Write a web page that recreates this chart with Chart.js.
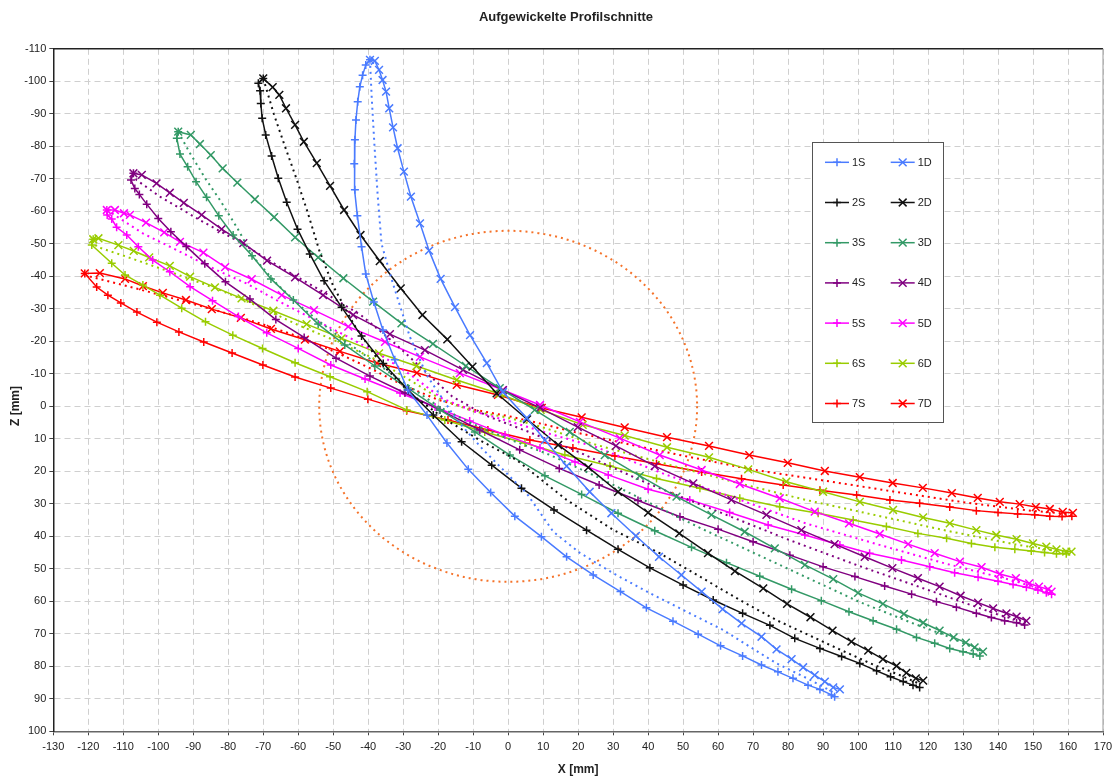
<!DOCTYPE html>
<html lang="de">
<head>
<meta charset="UTF-8">
<title>Aufgewickelte Profilschnitte</title>
<script src="https://cdn.jsdelivr.net/npm/chart.js"></script>
<style>
    html, body { margin: 0; padding: 0; background: #fff; }
    .box { position: relative; width: 1112px; height: 780px; }
</style>
</head>
<body>
<div class="box"><canvas id="grafico"></canvas></div>
<script>
// Profilschnitte 1..7 : S = Saugseite (+), D = Druckseite (x), M = gepunktete Linie
// Werte als [X, Z] in mm
const p1S = [[-39.5,-106.6],[-40.7,-105.0],[-41.6,-101.9],[-42.4,-98.3],[-43.0,-93.7],[-43.5,-88.1],[-43.8,-82.0],[-44.0,-74.6],[-43.8,-66.6],[-43.1,-58.6],[-41.9,-49.1],[-40.7,-40.7],[-38.4,-32.1],[-35.8,-23.5],[-32.4,-14.3],[-28.7,-5.0],[-23.2,2.7],[-17.5,11.3],[-11.4,19.4],[-5.0,26.5],[1.9,33.8],[9.5,40.1],[16.7,46.3],[24.3,51.9],[32.1,57.0],[39.5,62.0],[47.1,66.1],[54.3,70.1],[60.7,73.7],[67.0,76.8],[72.4,79.6],[77.1,81.7],[81.4,83.7],[85.7,85.8],[89.1,87.1],[92.4,88.8],[93.3,89.4]];
const p1D = [[-39.5,-106.6],[-38.1,-106.3],[-36.9,-103.5],[-35.9,-100.4],[-34.9,-96.8],[-34.0,-91.7],[-32.9,-85.8],[-31.6,-79.4],[-29.8,-72.2],[-27.8,-64.5],[-25.2,-56.3],[-22.6,-47.9],[-19.3,-39.2],[-15.2,-30.5],[-10.9,-21.9],[-6.1,-13.3],[-1.5,-4.4],[5.3,3.6],[10.5,10.4],[16.7,18.4],[23.3,26.3],[29.5,32.9],[36.5,39.9],[43.1,46.3],[49.5,51.9],[55.3,57.0],[61.3,62.4],[66.7,66.8],[72.4,70.9],[76.7,74.8],[81.0,77.8],[84.3,80.3],[87.6,82.7],[90.5,84.7],[92.9,86.5],[94.8,87.1]];
const p1M = [[-39.5,-106.6],[-39.0,-95],[-38.2,-80],[-37.3,-65],[-36.2,-50],[-33,-38],[-28.1,-21.4],[-23.3,-9.6],[-14.7,4.2],[-7.1,13.4],[5.3,26.8],[12.9,38.6],[20.5,45.1],[29.9,51.3],[40.5,57.5],[51,63.2],[61.4,68.8],[69.1,74],[76.7,79.1],[86,84],[93.3,88.2]];

const p2S = [[-70.0,-100.9],[-71.4,-99.4],[-70.9,-97.1],[-70.7,-93.2],[-70.3,-88.6],[-69.3,-83.5],[-67.6,-77.0],[-65.7,-70.2],[-63.3,-62.8],[-60.2,-54.5],[-56.7,-46.9],[-52.6,-38.6],[-47.6,-30.5],[-41.9,-21.6],[-35.7,-13.2],[-28.6,-5.0],[-21.4,2.7],[-13.3,10.9],[-4.7,18.1],[3.8,25.2],[13.1,31.9],[22.4,38.1],[31.4,44.0],[40.5,49.7],[50.0,55.0],[58.6,59.6],[67.0,63.7],[74.8,67.4],[81.9,71.4],[89.1,74.5],[95.3,77.0],[100.5,79.1],[105.3,81.4],[109.3,83.2],[112.9,84.7],[115.7,85.8],[117.6,86.5]];
const p2D = [[-70.0,-100.9],[-67.3,-98.2],[-65.4,-95.8],[-63.5,-91.7],[-60.9,-86.6],[-58.4,-81.4],[-54.7,-74.8],[-50.9,-67.8],[-46.9,-60.4],[-42.2,-52.7],[-36.7,-44.7],[-30.7,-36.3],[-24.5,-28.1],[-17.4,-20.6],[-10.2,-12.2],[-3.3,-4.0],[5.4,4.0],[14.3,11.9],[22.9,18.8],[31.4,26.3],[40.0,32.7],[48.9,39.1],[57.1,45.2],[64.8,50.7],[72.9,56.0],[79.7,60.8],[86.4,64.9],[92.7,69.0],[98.1,72.4],[102.9,75.2],[107.1,77.8],[111.0,79.9],[113.8,82.0],[116.5,83.7],[118.6,84.4]];
const p2M = [[-70.0,-100.9],[-67,-90],[-63.8,-80],[-60.5,-70],[-57.4,-60],[-54,-48],[-50,-37],[-44,-25],[-37,-14],[-28,-4],[-18,4],[-8,10.5],[2.4,16.5],[16.7,28.8],[30,38],[43.3,45.2],[54.8,52.4],[66.2,59.6],[76.7,65.8],[91.9,73.4],[103.3,79],[111.9,82.7],[117.6,85.4]];

const p3S = [[-94.3,-84.5],[-94.7,-82.5],[-93.8,-77.6],[-91.6,-73.7],[-89.2,-69.1],[-86.2,-64.3],[-82.7,-58.6],[-78.6,-52.7],[-73.2,-46.3],[-67.8,-39.2],[-61.4,-32.7],[-54.3,-25.3],[-46.7,-18.9],[-38.1,-12.4],[-28.7,-5.6],[-19.5,1.1],[-9.5,7.9],[0.5,15.0],[10.5,21.4],[21.0,27.1],[31.4,32.9],[41.9,38.3],[52.4,43.4],[62.4,48.1],[71.9,52.3],[81.0,56.3],[89.5,59.8],[97.4,63.2],[104.3,66.0],[111.0,68.6],[116.7,71.1],[121.9,72.9],[126.2,74.5],[130.0,75.5],[132.9,76.2],[134.8,76.8]];
const p3D = [[-94.3,-84.5],[-90.7,-83.5],[-88.1,-80.7],[-85.0,-77.3],[-81.6,-73.2],[-77.4,-68.8],[-72.4,-63.7],[-66.9,-58.2],[-60.9,-52.0],[-54.3,-45.8],[-47.1,-39.4],[-38.6,-32.2],[-30.5,-25.5],[-21.5,-19.2],[-12.1,-12.4],[-2.4,-5.6],[7.6,1.1],[17.6,7.9],[27.6,15.0],[37.6,21.4],[48.1,27.8],[58.1,33.4],[67.6,38.6],[76.2,43.7],[84.8,48.8],[92.9,53.2],[100.0,57.4],[107.1,60.8],[113.1,63.9],[118.6,66.6],[123.3,69.0],[127.3,71.1],[130.8,72.7],[133.3,74.2],[135.7,75.5]];
const p3M = [[-94.3,-84.5],[-91,-78],[-86.5,-70],[-82.4,-63.5],[-77.5,-55],[-72.9,-46],[-66,-37.5],[-58,-29.5],[-49,-22],[-40,-15],[-30,-7.5],[-20,0],[-10,5.5],[0,10],[12,15],[25,21.5],[40,29.5],[55,37.5],[70,45],[85,52.5],[100,60],[115,66.5],[125,70.5],[135.7,75.5]];

const p4S = [[-107.1,-71.7],[-107.8,-69.6],[-106.7,-67.0],[-105.4,-65.2],[-103.3,-62.2],[-100.0,-57.8],[-96.4,-53.7],[-92.0,-49.2],[-86.7,-43.9],[-80.8,-38.3],[-73.8,-33.0],[-66.4,-26.7],[-58.3,-21.2],[-49.2,-14.8],[-39.5,-9.3],[-29.5,-4.1],[-19.5,1.1],[-8.1,7.3],[3.3,13.4],[14.6,19.1],[26.0,24.2],[37.1,29.0],[49.1,34.0],[60.0,37.8],[70.0,41.7],[80.5,45.8],[90.0,49.4],[99.1,52.4],[107.6,55.3],[115.3,57.8],[122.4,60.1],[128.1,61.8],[133.8,63.7],[138.1,65.0],[141.9,66.0],[145.3,66.6],[147.6,67.3]];
const p4D = [[-107.1,-71.7],[-104.7,-71.2],[-100.5,-68.6],[-96.7,-65.7],[-92.7,-62.6],[-87.6,-58.9],[-81.9,-54.5],[-75.7,-50.2],[-68.9,-44.8],[-60.9,-39.7],[-52.9,-34.2],[-44.3,-28.1],[-33.8,-22.2],[-23.8,-17.3],[-12.9,-11.2],[-1.5,-5.0],[9.1,0.5],[19.9,6.4],[30.8,12.2],[41.9,18.4],[52.9,23.7],[63.8,28.8],[73.8,33.4],[83.8,38.1],[93.3,42.4],[101.9,46.3],[109.8,49.8],[117.1,52.9],[123.3,55.5],[129.3,58.3],[134.3,60.4],[138.6,62.2],[142.4,63.7],[145.3,64.7],[148.1,66.0]];
const p4M = [[-107.1,-71.7],[-106.2,-69.6],[-99.5,-64.5],[-88.1,-57.3],[-76.7,-50.5],[-66.2,-43.5],[-53.8,-35.8],[-42,-28],[-32,-19],[-24,-11],[-16,-3],[-6,3],[5,7.5],[20,14],[40,23.8],[60,32.4],[80,41],[100,49],[120,56.5],[140,64.1],[148,66.5]];

const p5S = [[-114.7,-60.4],[-114.6,-58.9],[-113.3,-57.6],[-111.9,-55.1],[-109.0,-52.7],[-105.7,-49.1],[-101.6,-45.0],[-96.7,-41.4],[-90.9,-36.8],[-84.5,-32.5],[-77.1,-27.6],[-69.0,-22.6],[-60.0,-17.8],[-50.7,-12.7],[-40.9,-8.4],[-30.9,-4.1],[-20.9,0.2],[-11.0,4.5],[-0.9,8.8],[9.1,12.8],[19.1,17.1],[28.6,21.1],[40.0,25.5],[51.9,28.8],[63.3,32.7],[74.3,36.5],[84.8,39.6],[94.8,42.7],[103.3,45.2],[112.4,47.3],[120.5,49.4],[127.6,51.2],[134.3,52.6],[140.0,53.8],[144.3,54.8],[148.1,55.7],[151.4,56.5],[153.8,57.4],[155.3,57.8]];
const p5D = [[-114.7,-60.4],[-112.4,-60.4],[-109.8,-59.4],[-108.1,-58.9],[-103.5,-56.5],[-98.3,-53.5],[-93.8,-50.6],[-87.1,-47.3],[-80.9,-42.8],[-73.3,-39.1],[-64.7,-34.2],[-55.5,-29.6],[-45.7,-24.5],[-35.2,-19.8],[-25.2,-15.2],[-13.8,-10.2],[-1.5,-5.0],[9.1,-0.4],[20.5,4.8],[31.9,9.8],[43.3,15.0],[55.3,19.6],[66.2,23.9],[77.6,28.3],[87.6,32.4],[97.4,36.0],[106.2,39.3],[114.3,42.4],[121.9,45.2],[129.1,47.8],[135.3,49.5],[140.5,51.6],[145.1,52.9],[148.9,54.5],[151.7,55.5],[154.3,56.3],[155.3,57.0]];
const p5M = [[-114.7,-60.4],[-104.4,-53.2],[-94.8,-48.1],[-83.3,-41.9],[-74.8,-37.8],[-66.2,-32.7],[-56,-27],[-46,-21.5],[-36,-15.5],[-27,-9],[-19,-2.5],[-10,1.5],[0,4.5],[12,8.5],[25,12.5],[45,21],[65,28.3],[85,36],[105,42.3],[125,48.4],[145,53.8],[155.3,57.4]];

const p6S = [[-118.6,-51.4],[-119.0,-49.6],[-113.3,-44.0],[-109.5,-40.4],[-104.4,-37.3],[-99.5,-34.2],[-93.3,-30.2],[-86.5,-26.0],[-78.7,-21.9],[-70.2,-17.8],[-60.9,-13.4],[-50.9,-9.1],[-40.3,-4.5],[-29.0,1.1],[-18.1,4.2],[-6.7,7.9],[4.8,11.3],[16.2,15.0],[29.1,18.4],[42.4,22.2],[54.8,25.2],[66.2,28.3],[77.6,30.9],[88.6,32.9],[98.6,35.0],[108.1,37.0],[117.1,39.1],[125.3,40.6],[132.4,42.2],[139.1,43.4],[144.8,44.0],[149.5,44.5],[153.3,45.0],[156.7,45.4],[159.5,45.4]];
const p6D = [[-118.6,-51.4],[-117.1,-51.7],[-111.4,-49.6],[-107.0,-47.8],[-102.6,-45.8],[-96.7,-43.2],[-90.9,-39.9],[-83.8,-36.6],[-76.2,-33.2],[-67.1,-29.4],[-57.6,-25.3],[-47.6,-20.9],[-36.9,-16.3],[-26.2,-12.4],[-14.7,-8.1],[-2.4,-3.8],[9.3,1.1],[21.3,5.7],[33.3,9.0],[45.4,12.6],[57.4,15.7],[68.6,19.4],[79.5,23.2],[90.0,26.3],[100.5,29.4],[110.0,31.9],[118.6,34.2],[126.2,36.0],[133.8,38.1],[139.5,39.6],[145.3,40.9],[150.0,42.2],[153.8,43.2],[156.7,44.0],[159.5,44.7],[161.0,44.7]];
const p6M = [[-118.6,-51.4],[-117.6,-49.1],[-109,-46],[-96.7,-41.4],[-82.4,-35.8],[-71,-30.6],[-60,-25],[-49,-20],[-38,-14.5],[-28,-8],[-19,-2],[-10,1.5],[0,3.5],[10,6.5],[25,11.8],[45,17.7],[65,23.4],[85,28.8],[105,33.5],[125,38.2],[145,42.5],[159.5,45]];

const p7S = [[-121.0,-40.9],[-117.6,-36.7],[-114.4,-34.2],[-110.7,-31.8],[-106.1,-29.0],[-100.4,-25.9],[-94.1,-22.9],[-87.0,-19.8],[-78.9,-16.4],[-70.1,-12.7],[-60.9,-9.0],[-50.7,-5.6],[-40.1,-2.2],[-29.0,1.4],[-17.2,4.2],[-5.8,7.3],[6.2,10.4],[18.5,12.8],[30.5,15.3],[42.4,17.7],[55.3,20.2],[66.7,22.3],[78.6,24.2],[89.1,25.8],[99.6,27.3],[109.1,28.8],[117.6,29.8],[126.2,31.0],[133.8,32.1],[140.0,32.7],[145.6,33.1],[150.5,33.4],[154.8,33.8],[158.3,33.9],[161.1,33.8]];
const p7D = [[-121.0,-40.9],[-116.7,-41.0],[-109.5,-39.2],[-104.4,-37.0],[-98.7,-34.9],[-92.1,-32.7],[-84.7,-29.9],[-76.4,-27.2],[-67.8,-23.8],[-58.1,-20.5],[-48.1,-16.9],[-37.5,-13.3],[-26.1,-10.3],[-14.7,-6.6],[-2.9,-3.5],[9.6,0.5],[21.0,3.4],[33.3,6.5],[45.4,9.5],[57.4,12.2],[68.9,15.0],[79.9,17.4],[90.5,19.9],[100.5,21.8],[109.9,23.6],[118.5,25.1],[126.8,26.7],[134.2,28.2],[140.5,29.4],[146.2,30.1],[150.8,31.0],[154.8,31.6],[158.5,32.5],[161.4,32.8]];
const p7M = [[-121.0,-40.9],[-119.5,-39.9],[-109,-37],[-99.5,-34.3],[-90,-31.5],[-80.5,-28.6],[-70.9,-25.5],[-60,-21.5],[-50,-17],[-40,-12],[-30,-6.5],[-20,-2],[-10,1],[0,3],[10,5.5],[20,8.2],[35,11.8],[50,15.2],[70,19.5],[90,22.8],[110,26.2],[130,29.5],[150,32.2],[161,33.2]];

const schnitte = ['1', '2', '3', '4', '5', '6', '7'];
const seiten = ['S', 'D'];
const radiusKreis = 54;   // gepunkteter Kreis um (0,0)
const xMin = -130, xMax = 170, zMin = -110, zMax = 100, schritt = 10;

const titel = 'Aufgewickelte Profilschnitte';
const titelX = 'X [mm]';
const titelZ = 'Z [mm]';

const farben = ['#4a7bff', '#111111', '#339966', '#800080', '#ff00ff', '#99cc00', '#ff0000'];
const profile = [[p1S, p1D, p1M], [p2S, p2D, p2M], [p3S, p3D, p3M], [p4S, p4D, p4M],
                 [p5S, p5D, p5M], [p6S, p6D, p6M], [p7S, p7D, p7M]];

function punkte(liste) {
    return liste.map(function (p) { return { x: p[0], y: p[1] }; });
}

var datasets = [];
profile.forEach(function (prof, i) {
    datasets.push({
        label: schnitte[i] + 'S', data: punkte(prof[0]), showLine: true,
        borderColor: farben[i], backgroundColor: farben[i], borderWidth: 1.5,
        pointStyle: 'cross', pointRadius: 4, pointBorderWidth: 1.5, pointBorderColor: farben[i]
    });
    datasets.push({
        label: schnitte[i] + 'D', data: punkte(prof[1]), showLine: true,
        borderColor: farben[i], backgroundColor: farben[i], borderWidth: 1.5,
        pointStyle: 'crossRot', pointRadius: 5.5, pointBorderWidth: 1.5, pointBorderColor: farben[i]
    });
    datasets.push({
        label: schnitte[i] + 'M', data: punkte(prof[2]), showLine: true,
        borderColor: farben[i], borderWidth: 2, borderDash: [2, 4],
        pointRadius: 0
    });
});

// Marker zeichnen (Chart.js-Helfer, sonst von Hand)
function marker(ctx, stil, r, x, y) {
    if (Chart.helpers && Chart.helpers.drawPoint) {
        Chart.helpers.drawPoint(ctx, { pointStyle: stil, radius: r, rotation: 0, borderWidth: 1.5 }, x, y);
        return;
    }
    var d = stil === 'cross' ? r : r * 0.707;
    ctx.beginPath();
    if (stil === 'cross') {
        ctx.moveTo(x - d, y); ctx.lineTo(x + d, y); ctx.moveTo(x, y - d); ctx.lineTo(x, y + d);
    } else {
        ctx.moveTo(x - d, y - d); ctx.lineTo(x + d, y + d); ctx.moveTo(x - d, y + d); ctx.lineTo(x + d, y - d);
    }
    ctx.stroke();
}

const kreis = {
    id: 'kreis',
    beforeDatasetsDraw(chart) {
        const ctx = chart.ctx, sx = chart.scales.x, sy = chart.scales.y;
        const cx = sx.getPixelForValue(0), cy = sy.getPixelForValue(0);
        const rx = Math.abs(sx.getPixelForValue(radiusKreis) - cx);
        const ry = Math.abs(sy.getPixelForValue(radiusKreis) - cy);
        ctx.save();
        ctx.strokeStyle = '#f5732a';
        ctx.lineWidth = 2;
        ctx.setLineDash([2, 4]);
        ctx.beginPath();
        ctx.ellipse(cx, cy, rx, ry, 0, 0, Math.PI * 2);
        ctx.stroke();
        ctx.restore();
    }
};

const rahmen = {
    id: 'rahmen',
    afterDatasetsDraw(chart) {
        const ctx = chart.ctx, a = chart.chartArea;
        ctx.save();
        ctx.lineWidth = 1.5;
        ctx.strokeStyle = '#222';
        ctx.beginPath(); ctx.moveTo(a.left, a.top); ctx.lineTo(a.right, a.top); ctx.stroke();
        ctx.strokeStyle = '#999';
        ctx.lineWidth = 1;
        ctx.beginPath(); ctx.moveTo(a.right, a.top); ctx.lineTo(a.right, a.bottom); ctx.stroke();

        // Legende
        const L = 812, T = 142, W = 131, H = 280;
        ctx.fillStyle = '#fff';
        ctx.fillRect(L, T, W, H);
        ctx.strokeStyle = '#555';
        ctx.strokeRect(L + 0.5, T + 0.5, W, H);
        ctx.font = '11px "Liberation Sans", Arial, sans-serif';
        ctx.textBaseline = 'middle';
        ctx.textAlign = 'left';
        schnitte.forEach(function (n, i) {
            const y = 162.3 + i * 40.2;
            [[825, 0, 'cross', 4], [890.7, 1, 'crossRot', 5.5]].forEach(function (e) {
                ctx.strokeStyle = farben[i];
                ctx.fillStyle = farben[i];
                ctx.lineWidth = 1.5;
                ctx.beginPath(); ctx.moveTo(e[0], y); ctx.lineTo(e[0] + 24, y); ctx.stroke();
                marker(ctx, e[2], e[3], e[0] + 12, y);
                ctx.fillStyle = '#222';
                ctx.fillText(n + seiten[e[1]], e[0] + 27, y + 0.5);
            });
        });
        ctx.restore();
    },
    afterDraw(chart) {
        const ctx = chart.ctx;
        ctx.save();
        ctx.fillStyle = '#222';
        ctx.textAlign = 'center';
        ctx.textBaseline = 'middle';
        ctx.font = 'bold 13px "Liberation Sans", Arial, sans-serif';
        ctx.fillText(titel, 566, 17);
        ctx.translate(16, 406);
        ctx.rotate(-Math.PI / 2);
        ctx.font = 'bold 12px "Liberation Sans", Arial, sans-serif';
        ctx.fillText(titelZ, 0, 0);
        ctx.restore();
    }
};

const schrift = { family: '"Liberation Sans Narrow", "Liberation Sans", Arial, sans-serif', size: 11 };

new Chart(document.getElementById('grafico'), {
    type: 'scatter',
    data: { datasets: datasets },
    options: {
        responsive: true,
        maintainAspectRatio: false,
        animation: false,
        devicePixelRatio: 1,
        layout: { padding: { top: 48.8, right: 9, left: 0, bottom: 0 } },
        elements: { line: { tension: 0 } },
        plugins: {
            legend: { display: false },
            tooltip: { enabled: false },
            title: { display: false }
        },
        scales: {
            x: {
                type: 'linear', min: xMin, max: xMax,
                ticks: { stepSize: schritt, autoSkip: false, maxRotation: 0, minRotation: 0, color: '#222', font: schrift, padding: 5 },
                grid: { color: '#cfcfcf', lineWidth: 1, tickLength: 4, tickColor: '#444' },
                border: { color: '#666', width: 1.5, dash: [6, 4] },
                title: { display: true, text: titelX, color: '#222', font: { family: '"Liberation Sans", Arial, sans-serif', size: 12, weight: 'bold' }, padding: { top: 0, bottom: 3 } },
                afterFit: function (s) { s.height = 48.7; s.paddingLeft = 0; s.paddingRight = 0; }
            },
            y: {
                type: 'linear', min: zMin, max: zMax, reverse: true,
                ticks: { stepSize: schritt, autoSkip: false, color: '#222', font: schrift, padding: 3 },
                grid: { color: '#cfcfcf', lineWidth: 1, tickLength: 4, tickColor: '#444' },
                border: { color: '#222', width: 1.5, dash: [6, 4] },
                afterFit: function (s) { s.width = 53.3; s.paddingTop = 0; s.paddingBottom = 0; }
            }
        }
    },
    plugins: [kreis, rahmen]
});
</script>
</body>
</html>
